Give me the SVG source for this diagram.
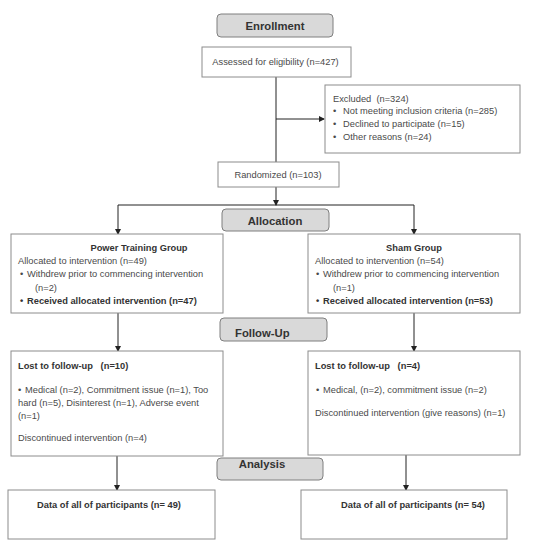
<svg xmlns="http://www.w3.org/2000/svg" width="536" height="550" viewBox="0 0 536 550">
<defs>
<marker id="arr" markerWidth="6" markerHeight="6" refX="5" refY="3" orient="auto" markerUnits="userSpaceOnUse">
<path d="M0,0 L6,3 L0,6 Z" fill="#222"/>
</marker>
<style>
.box{fill:#fff;stroke:#8c8c8c;stroke-width:1}
.lab{fill:#d9d9d9;stroke:#7f7f7f;stroke-width:1}
.t{font-family:"Liberation Sans",Arial,sans-serif;font-size:9.3px;fill:#4a4a4a}
.b{font-family:"Liberation Sans",Arial,sans-serif;font-size:9.3px;font-weight:bold;fill:#333}
.h{font-family:"Liberation Sans",Arial,sans-serif;font-size:11.3px;font-weight:bold;fill:#333}
.c{stroke:#222;stroke-width:1;fill:none}
</style>
</defs>
<rect width="536" height="550" fill="#fff"/>
<g id="connectors">
<line class="c" x1="276" y1="77" x2="276" y2="162"/>
<line class="c" x1="276" y1="119" x2="324" y2="119" marker-end="url(#arr)"/>
<line class="c" x1="276" y1="187" x2="276" y2="205" marker-end="url(#arr)"/>
<line class="c" x1="118" y1="205" x2="414" y2="205"/>
<line class="c" x1="118" y1="205" x2="118" y2="234" marker-end="url(#arr)"/>
<line class="c" x1="414" y1="205" x2="414" y2="234" marker-end="url(#arr)"/>
<line class="c" x1="118" y1="313" x2="118" y2="351" marker-end="url(#arr)"/>
<line class="c" x1="414" y1="313" x2="414" y2="351" marker-end="url(#arr)"/>
<line class="c" x1="117" y1="456" x2="117" y2="490" marker-end="url(#arr)"/>
<line class="c" x1="406" y1="455" x2="406" y2="490" marker-end="url(#arr)"/>
</g>
<g id="enrollment">
<rect class="lab" x="217" y="14" width="116" height="23" rx="4"/>
<text class="h" x="275" y="30" text-anchor="middle">Enrollment</text>
</g>
<g id="assessed">
<rect class="box" x="202" y="47" width="149" height="30"/>
<text class="t" x="275.5" y="65" text-anchor="middle">Assessed for eligibility (n=427)</text>
</g>
<g id="excluded">
<rect class="box" x="325" y="85" width="195" height="68"/>
<text class="t" x="333" y="102" xml:space="preserve">Excluded  (n=324)</text>
<text class="t" x="333" y="114">•</text><text class="t" x="343" y="114">Not meeting inclusion criteria (n=285)</text>
<text class="t" x="333" y="126.5">•</text><text class="t" x="343" y="126.5">Declined to participate (n=15)</text>
<text class="t" x="333" y="139.5">•</text><text class="t" x="343" y="139.5">Other reasons (n=24)</text>
</g>
<g id="randomized">
<rect class="box" x="218" y="162" width="121" height="25"/>
<text class="t" x="278" y="178" text-anchor="middle">Randomized (n=103)</text>
</g>
<g id="allocation">
<rect class="lab" x="222" y="209" width="107" height="22" rx="4"/>
<text class="h" x="275" y="225" text-anchor="middle">Allocation</text>
</g>
<g id="power-group">
<rect class="box" x="11" y="234" width="212" height="79"/>
<text class="b" x="139" y="251" text-anchor="middle">Power Training Group</text>
<text class="t" x="18" y="264">Allocated to intervention (n=49)</text>
<text class="t" x="20" y="277">•</text><text class="t" x="27" y="277">Withdrew prior to commencing intervention</text>
<text class="t" x="35" y="291">(n=2)</text>
<text class="b" x="20" y="304">•</text><text class="b" x="27" y="304">Received allocated intervention (n=47)</text>
</g>
<g id="sham-group">
<rect class="box" x="308" y="234" width="212" height="79"/>
<text class="b" x="414" y="251" text-anchor="middle">Sham Group</text>
<text class="t" x="315" y="264">Allocated to intervention (n=54)</text>
<text class="t" x="316" y="277">•</text><text class="t" x="323" y="277">Withdrew prior to commencing intervention</text>
<text class="t" x="333" y="291">(n=1)</text>
<text class="b" x="316" y="304">•</text><text class="b" x="323" y="304">Received allocated intervention (n=53)</text>
</g>
<g id="follow-up">
<rect class="lab" x="220" y="318" width="107" height="23" rx="4"/>
<text class="h" x="235" y="337">Follow-Up</text>
</g>
<g id="lost-power">
<rect class="box" x="11" y="351" width="212" height="105"/>
<text class="b" x="18" y="369" xml:space="preserve">Lost to follow-up   (n=10)</text>
<text class="t" x="18" y="393">•</text><text class="t" x="25" y="393">Medical (n=2), Commitment issue (n=1), Too</text>
<text class="t" x="18" y="406">hard (n=5), Disinterest (n=1), Adverse event</text>
<text class="t" x="18" y="419">(n=1)</text>
<text class="t" x="18" y="441">Discontinued intervention (n=4)</text>
</g>
<g id="lost-sham">
<rect class="box" x="308" y="351" width="212" height="104"/>
<text class="b" x="315" y="369" xml:space="preserve">Lost to follow-up   (n=4)</text>
<text class="t" x="316" y="393">•</text><text class="t" x="323" y="393">Medical, (n=2), commitment issue (n=2)</text>
<text class="t" x="315" y="415.5">Discontinued intervention (give reasons) (n=1)</text>
</g>
<g id="analysis">
<rect class="lab" x="217" y="458" width="106" height="22" rx="4"/>
<text class="h" x="262" y="468" text-anchor="middle">Analysis</text>
</g>
<g id="data-power">
<rect class="box" x="8" y="490" width="207" height="49"/>
<text class="b" x="109" y="508" text-anchor="middle">Data of all of participants (n= 49)</text>
</g>
<g id="data-sham">
<rect class="box" x="301" y="490" width="206" height="49"/>
<text class="b" x="413" y="508" text-anchor="middle">Data of all of participants (n= 54)</text>
</g>
</svg>
